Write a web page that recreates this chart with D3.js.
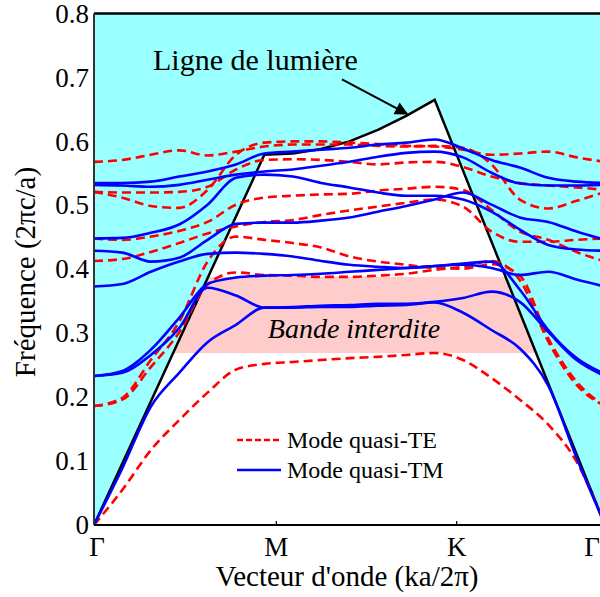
<!DOCTYPE html>
<html>
<head>
<meta charset="utf-8">
<script src="https://cdn.jsdelivr.net/npm/d3@7"></script>
<style>
  html, body { margin: 0; padding: 0; background: #fff; }
  svg { display: block; font-family: "Liberation Serif", "Times New Roman", serif; }
</style>
</head>
<body>
<svg id="chart" width="600" height="597"></svg>
<script>
// Wave-vector path Γ → M → K → Γ, sampled every sixth of a segment
const kGrid = [0, 0.1667, 0.3333, 0.5, 0.6667, 0.8333, 1, 1.1667, 1.3333, 1.5,
               1.6667, 1.8333, 2, 2.1667, 2.3333, 2.5, 2.6667, 2.8333, 3];

// Quasi-TE bands (normalised frequency ωa/2πc)
const te1 = [0, .055, .117, .164, .207, .243, .252, .255, .258, .261, .263, .266, .269, .258, .230, .196, .157, .099, 0];
const te2 = [.186, .196, .247, .301, .376, .395, .391, .390, .388, .388, .390, .393, .399, .404, .413, .383, .287, .219, .186];
const te3 = [.186, .199, .258, .318, .412, .451, .446, .441, .434, .420, .412, .407, .402, .401, .408, .390, .292, .224, .186];
const te4 = [.413, .416, .427, .441, .456, .467, .474, .477, .485, .492, .498, .504, .509, .498, .459, .443, .443, .446, .448];
const te5 = [.521, .520, .520, .521, .529, .556, .571, .572, .571, .568, .564, .567, .568, .560, .545, .535, .531, .528, .524];
const te6 = [.521, .512, .499, .496, .524, .579, .598, .600, .600, .598, .596, .593, .592, .587, .579, .581, .584, .575, .568];
const te7 = [.568, .571, .579, .586, .578, .584, .592, .595, .595, .595, .593, .592, .593, .590, .564, .509, .495, .507, .521];
const te8 = [.448, .446, .451, .460, .474, .501, .512, .515, .517, .518, .523, .526, .529, .524, .493, .459, .446, .427, .412];

// Quasi-TM bands
const tm1 = [0, .089, .185, .238, .286, .313, .340, .340, .341, .341, .343, .344, .348, .332, .305, .276, .218, .105, 0];
const tm2 = [.233, .238, .266, .308, .371, .359, .340, .341, .343, .344, .346, .346, .349, .355, .365, .349, .302, .258, .233];
const tm3 = [.233, .241, .274, .324, .377, .387, .390, .391, .393, .396, .399, .402, .405, .409, .412, .368, .305, .261, .236];
const tm4 = [.373, .377, .396, .412, .424, .426, .424, .420, .413, .407, .404, .402, .405, .407, .402, .391, .396, .384, .373];
const tm5 = [.429, .426, .412, .418, .446, .471, .473, .473, .476, .481, .490, .499, .509, .520, .501, .481, .474, .459, .446];
const tm6 = [.448, .449, .457, .470, .501, .543, .548, .545, .535, .528, .520, .515, .515, .509, .490, .462, .438, .431, .429];
const tm7 = [.535, .535, .537, .545, .553, .564, .581, .584, .587, .590, .595, .598, .603, .589, .571, .559, .543, .537, .535];
const tm8 = [.532, .531, .529, .532, .540, .548, .553, .556, .562, .568, .576, .582, .584, .575, .551, .534, .531, .531, .532];

const teModes = [te1, te2, te3, te4, te5, te6, te7, te8];
const tmModes = [tm1, tm2, tm3, tm4, tm5, tm6, tm7, tm8];

// Light line ω = c|k|
const lightK = [0, 1, 1.1667, 1.3333, 1.5, 1.6667, 1.8333, 2, 3];
const lightF = [0, .579, .581, .588, .600, .618, .640, .665, 0];

// Photonic band gap edges
const gapEdges = [0.269, 0.388];

// Axis ticks
const yTicks = [0, 0.1, 0.2, 0.3, 0.4, 0.5, 0.6, 0.7, 0.8];
const kTicks = [0, 1, 2, 3];
const kLabels = ["Γ", "M", "K", "Γ"];
const kLabelNudge = [3, 12, 22, -13];

// Arrow of the light-line annotation (k, frequency)
const arrowFrom = [1.456, 0.697];
const arrowTo = [1.838, 0.643];

const svg = d3.select("#chart");
const x = d3.scaleLinear().domain([0, 3]).range([94, 605]);
const y = d3.scaleLinear().domain([0, 0.8]).range([525, 13.5]);
const [x0, x1] = x.range();
const [yb, yt] = y.range();

const defs = svg.append("defs");
defs.append("clipPath").attr("id", "plotClip")
  .append("rect").attr("x", x0).attr("y", yt).attr("width", x1 - x0).attr("height", yb - yt);

const lightPts = lightK.map((k, i) => [k, lightF[i]]);
const cone = d3.area().x(d => x(d[0])).y0(y(0)).y1(d => y(d[1]));
defs.append("clipPath").attr("id", "coneClip")
  .append("path").datum(lightPts).attr("d", cone);

defs.append("marker").attr("id", "arrowHead")
  .attr("viewBox", "0 0 10 10").attr("refX", 9).attr("refY", 5)
  .attr("markerWidth", 7).attr("markerHeight", 6).attr("markerUnits", "strokeWidth")
  .attr("orient", "auto")
  .append("path").attr("d", "M0,0 L10,5 L0,10 Z").attr("fill", "#000");

const plot = svg.append("g").attr("clip-path", "url(#plotClip)");

// Radiative region above the light line
plot.append("rect").attr("x", x0).attr("y", yt).attr("width", x1 - x0).attr("height", yb - yt)
  .attr("fill", "#99ffff");
// Guided region below the light line
plot.append("path").datum(lightPts).attr("d", cone).attr("fill", "#ffffff");
// Band gap, restricted to guided modes
plot.append("rect").attr("clip-path", "url(#coneClip)")
  .attr("x", x0).attr("width", x1 - x0)
  .attr("y", y(gapEdges[1])).attr("height", y(gapEdges[0]) - y(gapEdges[1]))
  .attr("fill", "#ffcccc");

plot.append("text")
  .attr("x", 354).attr("y", 338)
  .attr("text-anchor", "middle")
  .attr("font-size", 28).attr("font-style", "italic")
  .text("Bande interdite");

// Light line
plot.append("path").datum(lightPts)
  .attr("d", d3.line().x(d => x(d[0])).y(d => y(d[1])))
  .attr("fill", "none").attr("stroke", "#000").attr("stroke-width", 2.5);

const band = d3.line()
  .x((d, i) => x(kGrid[i]))
  .y(d => y(d))
  .curve(d3.curveMonotoneX);

plot.selectAll("path.te").data(teModes).join("path")
  .attr("class", "te").attr("d", band)
  .attr("fill", "none").attr("stroke", "#ff0000").attr("stroke-width", 2.6)
  .attr("stroke-dasharray", "9,5");

plot.selectAll("path.tm").data(tmModes).join("path")
  .attr("class", "tm").attr("d", band)
  .attr("fill", "none").attr("stroke", "#0000ff").attr("stroke-width", 2.6);

// Frame
svg.append("line").attr("x1", x0).attr("x2", 600).attr("y1", yt).attr("y2", yt)
  .attr("stroke", "#000").attr("stroke-width", 2.5);
svg.append("line").attr("x1", x0).attr("x2", x0).attr("y1", yt).attr("y2", yb)
  .attr("stroke", "#333").attr("stroke-width", 2);
svg.append("line").attr("x1", x0).attr("x2", 600).attr("y1", yb).attr("y2", yb)
  .attr("stroke", "#000").attr("stroke-width", 2);

// Frequency axis
const yAxis = svg.append("g").attr("transform", "translate(89,0)")
  .call(d3.axisLeft(y).tickValues(yTicks).tickSize(0).tickPadding(0)
    .tickFormat(d => d === 0 ? "0" : d3.format(".1f")(d)));
yAxis.select(".domain").remove();
yAxis.selectAll("text")
  .attr("font-family", "Liberation Serif, serif")
  .attr("font-size", 27).attr("fill", "#000");

// High-symmetry points
kTicks.forEach((k, i) => {
  const px = x(k) + kLabelNudge[i];
  if (i === 1 || i === 2) {
    svg.append("line").attr("x1", px).attr("x2", px).attr("y1", yb).attr("y2", yb - 4)
      .attr("stroke", "#000").attr("stroke-width", 1.2);
  }
  svg.append("text").attr("x", px).attr("y", 556)
    .attr("text-anchor", "middle").attr("font-size", 27)
    .text(kLabels[i]);
});

// Axis titles
svg.append("text").attr("x", 347).attr("y", 586)
  .attr("text-anchor", "middle").attr("font-size", 29)
  .text("Vecteur d'onde (ka/2π)");
svg.append("text").attr("transform", "translate(35,272) rotate(-90)")
  .attr("text-anchor", "middle").attr("font-size", 29)
  .text("Fréquence (2πc/a)");

// Light-line annotation
svg.append("text").attr("x", 153).attr("y", 70).attr("font-size", 30)
  .text("Ligne de lumière");
svg.append("line")
  .attr("x1", x(arrowFrom[0])).attr("y1", y(arrowFrom[1]))
  .attr("x2", x(arrowTo[0])).attr("y2", y(arrowTo[1]))
  .attr("stroke", "#000").attr("stroke-width", 2.2)
  .attr("marker-end", "url(#arrowHead)");

// Legend
const legend = svg.append("g");
const legendRows = [
  { label: "Mode quasi-TE", color: "#ff0000", dash: "6,3", yPos: 440 },
  { label: "Mode quasi-TM", color: "#0000ff", dash: null, yPos: 470 }
];
legendRows.forEach(r => {
  legend.append("line").attr("x1", 237).attr("x2", 281).attr("y1", r.yPos).attr("y2", r.yPos)
    .attr("stroke", r.color).attr("stroke-width", 2.4)
    .attr("stroke-dasharray", r.dash);
  legend.append("text").attr("x", 287).attr("y", r.yPos + 8)
    .attr("font-size", 24).text(r.label);
});
</script>
</body>
</html>
